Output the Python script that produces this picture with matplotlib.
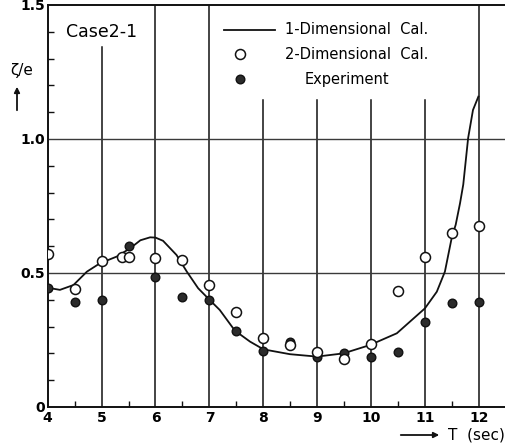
"""
Case2-1 : heave response ratio vs. wave period
1-D calculation curve, 2-D calculation and experiment points.
"""

import matplotlib

matplotlib.use("Agg")

import matplotlib.pyplot as plt
from matplotlib.patches import FancyArrowPatch

# 1-dimensional calculation
calc1_t = [4.0, 4.23, 4.48, 4.73, 4.97, 5.28, 5.53, 5.72, 5.9, 6.0, 6.14, 6.39,
           6.58, 6.79, 7.0, 7.19, 7.47, 7.75, 8.0, 8.49, 8.99, 9.48, 9.97,
           10.47, 10.99, 11.21, 11.36, 11.49, 11.56, 11.64, 11.7, 11.79,
           11.88, 11.98]
calc1_r = [0.445, 0.437, 0.455, 0.505, 0.536, 0.561, 0.592, 0.622, 0.633,
           0.632, 0.62, 0.567, 0.505, 0.443, 0.40, 0.362, 0.285, 0.244,
           0.215, 0.197, 0.188, 0.20, 0.231, 0.275, 0.368, 0.43, 0.505,
           0.635, 0.68, 0.76, 0.83, 1.003, 1.108, 1.158]

# 2-dimensional calculation
calc2_t = [4, 4.5, 5, 5.38, 5.5, 6, 6.5, 7, 7.5, 8, 8.5, 9, 9.5, 10, 10.5,
           11, 11.5, 12]
calc2_r = [0.57, 0.44, 0.545, 0.56, 0.56, 0.555, 0.547, 0.455, 0.353, 0.256,
           0.233, 0.206, 0.178, 0.235, 0.434, 0.558, 0.65, 0.675]

# experiment
exp_t = [4, 4.5, 5, 5.5, 6, 6.5, 7, 7.5, 8, 8.5, 9, 9.5, 10, 10.5, 11,
         11.5, 12]
exp_r = [0.445, 0.39, 0.40, 0.60, 0.486, 0.41, 0.40, 0.285, 0.208, 0.244,
         0.188, 0.203, 0.185, 0.206, 0.318, 0.387, 0.393]

x_ticks = [4, 5, 6, 7, 8, 9, 10, 11, 12]
y_ticks = [0, 0.5, 1.0, 1.5]
y_tick_labels = ["0", "0.5", "1.0", "1.5"]

# vertical grid lines stop below the title / legend block
grid_x = [5, 6, 7, 8, 9, 10, 11, 12]
grid_top = [1.343, 1.5, 1.5, 1.146, 1.146, 1.146, 1.146, 1.5]

INK = "#111111"
DARK = "#2b2b2b"
OPEN_MS, DARK_MS = 7.2, 6.2

fig = plt.figure(figsize=(5.06, 4.45), dpi=100)
ax = fig.add_axes([0.0939, 0.0854, 0.907, 0.9035])

ax.set_xlim(4, 12.5)
ax.set_ylim(0, 1.5)

for gx, top in zip(grid_x, grid_top):
    ax.plot([gx, gx], [0, top], color=INK, lw=1.1, zorder=1)
for gy in [0.5, 1.0]:
    ax.axhline(gy, color="#3a3a3a", lw=1.0, zorder=1)

ax.plot(calc1_t, calc1_r, color=INK, lw=1.3, zorder=3)
ax.plot(exp_t, exp_r, "o", ms=DARK_MS, mfc=DARK, mec=INK, mew=1.0, zorder=4)
ax.plot(calc2_t, calc2_r, "o", ms=OPEN_MS, mfc="white", mec=INK, mew=1.1,
        zorder=5)

ax.spines["right"].set_visible(False)
for side in ["left", "bottom", "top"]:
    ax.spines[side].set_linewidth(1.4)
    ax.spines[side].set_color(INK)

ax.set_xticks(x_ticks)
ax.set_xticklabels([str(t) for t in x_ticks], fontsize=10, fontweight="bold")
ax.set_xticks([4.5 + i for i in range(8)], minor=True)
ax.set_yticks(y_ticks)
ax.set_yticklabels(y_tick_labels, fontsize=10, fontweight="bold")
ax.set_yticks([i / 10 for i in range(1, 15) if i % 5], minor=True)
ax.tick_params(axis="x", which="major", direction="in", length=0, pad=3)
ax.tick_params(axis="y", which="major", direction="in", length=0, pad=2)
ax.tick_params(axis="both", which="minor", direction="in", length=4,
               width=1.0, color=INK)

ax.text(0.04, 0.933, "Case2-1", transform=ax.transAxes, fontsize=12.5,
        va="center", ha="left")

# legend block, drawn by hand to sit where the original has it
tr = ax.transAxes
ax.plot([0.3845, 0.4956], [0.938, 0.938], color=INK, lw=1.3, transform=tr,
        clip_on=False)
ax.plot([0.4194], [0.878], "o", ms=OPEN_MS, mfc="white", mec=INK, mew=1.1,
        transform=tr, clip_on=False)
ax.plot([0.4194], [0.816], "o", ms=DARK_MS, mfc=DARK, mec=INK, mew=1.0,
        transform=tr, clip_on=False)
legend_font = dict(fontsize=10.5, va="center", ha="left", transform=tr)
ax.text(0.517, 0.938, "1-Dimensional  Cal.", **legend_font)
ax.text(0.517, 0.876, "2-Dimensional  Cal.", **legend_font)
ax.text(0.561, 0.815, "Experiment", **legend_font)

# axis names
fig.text(22 / 506, 1 - 70 / 445, "ζ/e", fontsize=11, ha="center", va="center")
fig.patches.append(FancyArrowPatch(
    (17 / 506, 1 - 113 / 445), (17 / 506, 1 - 84 / 445),
    transform=fig.transFigure, arrowstyle="-|>", mutation_scale=8,
    color=INK, lw=1.3))
fig.patches.append(FancyArrowPatch(
    (398 / 506, 1 - 435 / 445), (442 / 506, 1 - 435 / 445),
    transform=fig.transFigure, arrowstyle="-|>", mutation_scale=8,
    color=INK, lw=1.3))
fig.text(448 / 506, 1 - 435 / 445, "T  (sec)", fontsize=11, ha="left",
         va="center")

fig.savefig("out.png", dpi=100)
